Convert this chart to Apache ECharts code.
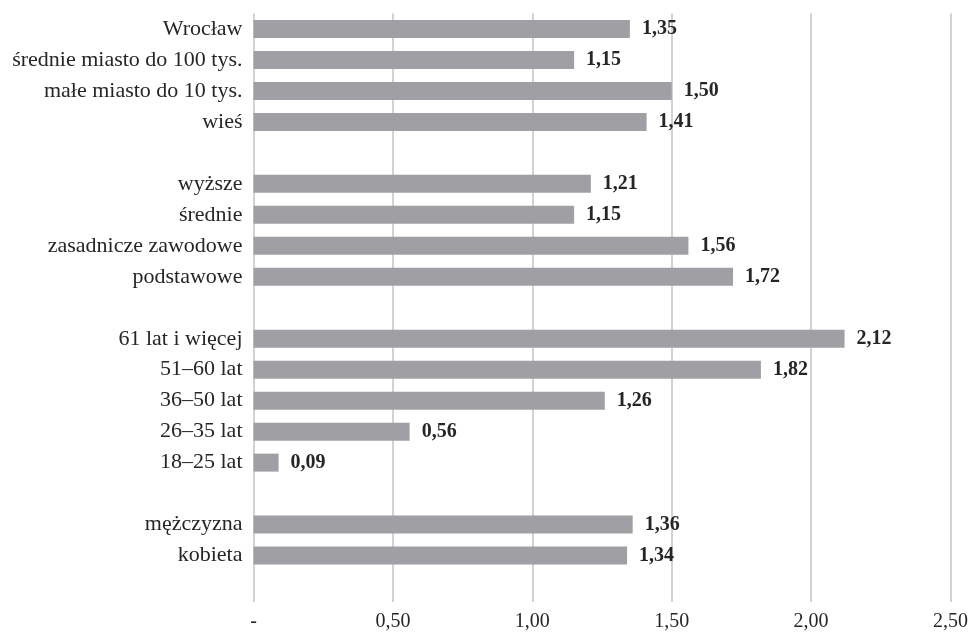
<!DOCTYPE html>
<html>
<head>
<meta charset="utf-8">
<script src="https://cdn.jsdelivr.net/npm/echarts@6/dist/echarts.min.js"></script>
<style>
  html, body { margin: 0; padding: 0; background: #ffffff; }
  #chart { width: 971px; height: 632px; }
</style>
</head>
<body>
<div id="chart"></div>
<script>
// Category rows top to bottom; empty strings separate the groups
const categories = [
  'Wrocław', 'średnie miasto do 100 tys.', 'małe miasto do 10 tys.', 'wieś', '',
  'wyższe', 'średnie', 'zasadnicze zawodowe', 'podstawowe', '',
  '61 lat i więcej', '51–60 lat', '36–50 lat', '26–35 lat', '18–25 lat', '',
  'mężczyzna', 'kobieta', ''
];
const values = [
  1.35, 1.15, 1.50, 1.41, null,
  1.21, 1.15, 1.56, 1.72, null,
  2.12, 1.82, 1.26, 0.56, 0.09, null,
  1.36, 1.34, null
];
const axisTicks = [0, 0.5, 1.0, 1.5, 2.0, 2.5];

const fmt = v => v.toFixed(2).replace('.', ',');
const FONT = '"Liberation Serif", "DejaVu Serif", serif';

const chart = echarts.init(document.getElementById('chart'), null, { renderer: 'canvas' });
chart.setOption({
  animation: false,
  backgroundColor: '#ffffff',
  grid: { left: 253.5, right: 19.3, top: 13.5, bottom: 24.5, containLabel: false },
  xAxis: {
    type: 'value',
    min: axisTicks[0],
    max: axisTicks[axisTicks.length - 1],
    interval: 0.5,
    axisLine: { show: false },
    axisTick: { show: false },
    splitLine: { show: true, lineStyle: { color: '#d2d2d2', width: 2 } },
    axisLabel: {
      margin: 10,
      color: '#262626',
      fontFamily: FONT,
      fontSize: 20,
      formatter: v => (v === 0 ? '-' : fmt(v))
    }
  },
  yAxis: {
    type: 'category',
    data: categories,
    inverse: true,
    axisLine: { show: false },
    axisTick: { show: false },
    splitLine: { show: false },
    axisLabel: {
      margin: 11,
      color: '#262626',
      fontFamily: FONT,
      fontSize: 22,
      interval: 0
    }
  },
  series: [{
    type: 'bar',
    data: values,
    barWidth: 18,
    itemStyle: { color: '#a0a0a4' },
    label: {
      show: true,
      position: 'right',
      distance: 12,
      color: '#262626',
      fontFamily: FONT,
      fontWeight: 'bold',
      fontSize: 20,
      formatter: p => (p.value == null ? '' : fmt(p.value))
    }
  }]
});
</script>
</body>
</html>
